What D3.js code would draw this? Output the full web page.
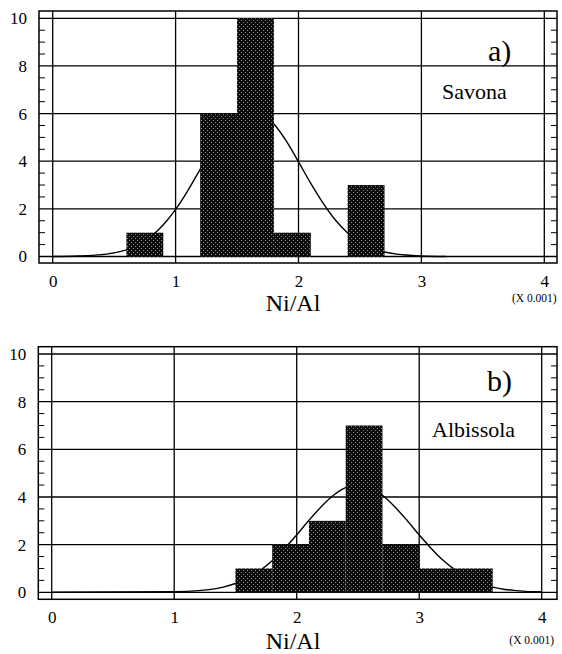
<!DOCTYPE html>
<html>
<head>
<meta charset="utf-8">
<script src="https://cdn.jsdelivr.net/npm/d3@7"></script>
<style>
  body { margin: 0; background: #fff; }
  svg { display: block; }
</style>
</head>
<body>
<svg id="chart" width="562" height="654"></svg>
<script>
// axis ticks
const xTicks = [0, 1, 2, 3, 4];
const yTicks = [0, 2, 4, 6, 8, 10];
const yMinor = [0.5, 1, 1.5, 2.5, 3, 3.5, 4.5, 5, 5.5, 6.5, 7, 7.5, 8.5, 9, 9.5];

// histogram bins (Ni/Al x 0.001), width 0.3
const binWidth = 0.3;
const savonaStarts = [0.6, 1.2, 1.5, 1.8, 2.4];
const savonaCounts = [1, 6, 10, 1, 3];
const albissolaStarts = [1.5, 1.8, 2.1, 2.4, 2.7, 3.0, 3.3];
const albissolaCounts = [1, 2, 3, 7, 2, 1, 1];

// fitted curves
const savonaCurveX = [0, 0.2, 0.4, 0.5, 0.6, 0.7, 0.8, 0.9, 1.0, 1.1, 1.2, 1.3, 1.4, 1.5, 1.6,
  1.7, 1.8, 1.9, 2.0, 2.1, 2.2, 2.3, 2.4, 2.5, 2.6, 2.7, 2.8, 2.9, 3.0, 3.2];
const savonaCurveY = [0, 0.02, 0.08, 0.15, 0.28, 0.5, 0.84, 1.33, 1.98, 2.77, 3.66, 4.56, 5.35, 5.9, 6.15,
  6.02, 5.56, 4.85, 3.97, 3.07, 2.24, 1.53, 0.99, 0.6, 0.35, 0.19, 0.1, 0.05, 0.02, 0];
const albissolaCurveX = [0, 1.0, 1.2, 1.4, 1.5, 1.6, 1.7, 1.8, 1.9, 2.0, 2.1, 2.2, 2.3, 2.4, 2.5,
  2.6, 2.7, 2.8, 2.9, 3.0, 3.1, 3.2, 3.3, 3.4, 3.5, 3.6, 3.7, 3.8, 3.9, 4.0];
const albissolaCurveY = [0, 0.02, 0.07, 0.22, 0.37, 0.59, 0.91, 1.32, 1.83, 2.41, 3.02, 3.59, 4.07, 4.39, 4.5,
  4.39, 4.07, 3.59, 3.02, 2.41, 1.83, 1.32, 0.91, 0.59, 0.37, 0.22, 0.12, 0.07, 0.03, 0.02];

const font = "'Liberation Serif', 'Times New Roman', serif";
const svg = d3.select("#chart");

// halftone-like fill used by the scanned bars
const pat = svg.append("defs").append("pattern")
  .attr("id", "screen")
  .attr("width", 4).attr("height", 4)
  .attr("patternUnits", "userSpaceOnUse");
pat.append("rect").attr("width", 4).attr("height", 4).attr("fill", "#0c0c0c");
[[1, 0], [3, 2]].forEach(([px, py]) => {
  pat.append("rect").attr("x", px).attr("y", py)
    .attr("width", 1).attr("height", 1).attr("fill", "#8a8a8a");
});

const panels = [
  {
    tag: "a)", site: "Savona",
    starts: savonaStarts, counts: savonaCounts,
    cx: savonaCurveX, cy: savonaCurveY,
    x0: 52.7, x4: 544.3, y0: 256.5, y10: 18.3,
    left: 39, right: 557, top: 11, bottom: 263,
    tagPos: [488, 61], sitePos: [442, 99.3],
    titleY: 311, unitY: 301.7
  },
  {
    tag: "b)", site: "Albissola",
    starts: albissolaStarts, counts: albissolaCounts,
    cx: albissolaCurveX, cy: albissolaCurveY,
    x0: 51.7, x4: 541.7, y0: 592.3, y10: 354,
    left: 38.3, right: 557, top: 346.7, bottom: 599.3,
    tagPos: [487, 391], sitePos: [432, 437.3],
    titleY: 648.5, unitY: 643.5
  }
];

panels.forEach(p => {
  const x = d3.scaleLinear().domain([0, 4]).range([p.x0, p.x4]);
  const y = d3.scaleLinear().domain([0, 10]).range([p.y0, p.y10]);
  const g = svg.append("g");

  // grid
  g.append("g").selectAll("line").data(xTicks).join("line")
    .attr("x1", d => x(d)).attr("x2", d => x(d))
    .attr("y1", p.top).attr("y2", p.bottom)
    .attr("stroke", "#000").attr("stroke-width", 1.3);
  g.append("g").selectAll("line").data(yTicks).join("line")
    .attr("x1", p.left).attr("x2", p.right)
    .attr("y1", d => y(d)).attr("y2", d => y(d))
    .attr("stroke", "#000").attr("stroke-width", 1.3);

  // minor ticks on both sides, pointing inward
  g.append("g").selectAll("line").data(yMinor).join("line")
    .attr("x1", p.left).attr("x2", p.left + 6)
    .attr("y1", d => y(d)).attr("y2", d => y(d))
    .attr("stroke", "#000").attr("stroke-width", 1);
  g.append("g").selectAll("line").data(yMinor).join("line")
    .attr("x1", p.right - 6).attr("x2", p.right)
    .attr("y1", d => y(d)).attr("y2", d => y(d))
    .attr("stroke", "#000").attr("stroke-width", 1);

  // fitted curve
  const pts = p.cx.map((v, i) => [v, p.cy[i]]);
  g.append("path")
    .datum(pts)
    .attr("fill", "none")
    .attr("stroke", "#000")
    .attr("stroke-width", 1.4)
    .attr("d", d3.line().x(d => x(d[0])).y(d => y(d[1])).curve(d3.curveMonotoneX));

  // bars
  g.append("g").selectAll("rect").data(p.starts).join("rect")
    .attr("x", d => x(d))
    .attr("width", d => x(d + binWidth) - x(d))
    .attr("y", (d, i) => y(p.counts[i]))
    .attr("height", (d, i) => y(0) - y(p.counts[i]))
    .attr("fill", "url(#screen)");

  // frame
  g.append("rect")
    .attr("x", p.left).attr("y", p.top)
    .attr("width", p.right - p.left).attr("height", p.bottom - p.top)
    .attr("fill", "none").attr("stroke", "#000").attr("stroke-width", 1.5);

  // tick labels
  const yAxis = g.append("g")
    .attr("transform", `translate(${p.left},0)`)
    .call(d3.axisLeft(y).tickValues(yTicks).tickSize(0).tickPadding(12)
      .tickFormat(d3.format("d")));
  const xAxis = g.append("g")
    .attr("transform", `translate(0,${p.bottom})`)
    .call(d3.axisBottom(x).tickValues(xTicks).tickSize(0).tickPadding(12)
      .tickFormat(d3.format("d")));
  [yAxis, xAxis].forEach(a => {
    a.attr("font-family", font).attr("font-size", 17);
    a.select(".domain").remove();
    a.selectAll("text").attr("fill", "#000");
  });

  // axis title and scale factor
  g.append("text")
    .attr("x", 293).attr("y", p.titleY)
    .attr("text-anchor", "middle")
    .attr("font-family", font).attr("font-size", 24)
    .text("Ni/Al");
  g.append("text")
    .attr("x", p.x4 - 10).attr("y", p.unitY)
    .attr("text-anchor", "middle")
    .attr("font-family", font).attr("font-size", 11.5)
    .text("(X 0.001)");

  // panel tag and site name
  g.append("text")
    .attr("x", p.tagPos[0]).attr("y", p.tagPos[1])
    .attr("font-family", font).attr("font-size", 30)
    .text(p.tag);
  g.append("text")
    .attr("x", p.sitePos[0]).attr("y", p.sitePos[1])
    .attr("font-family", font).attr("font-size", 22)
    .text(p.site);
});
</script>
</body>
</html>
